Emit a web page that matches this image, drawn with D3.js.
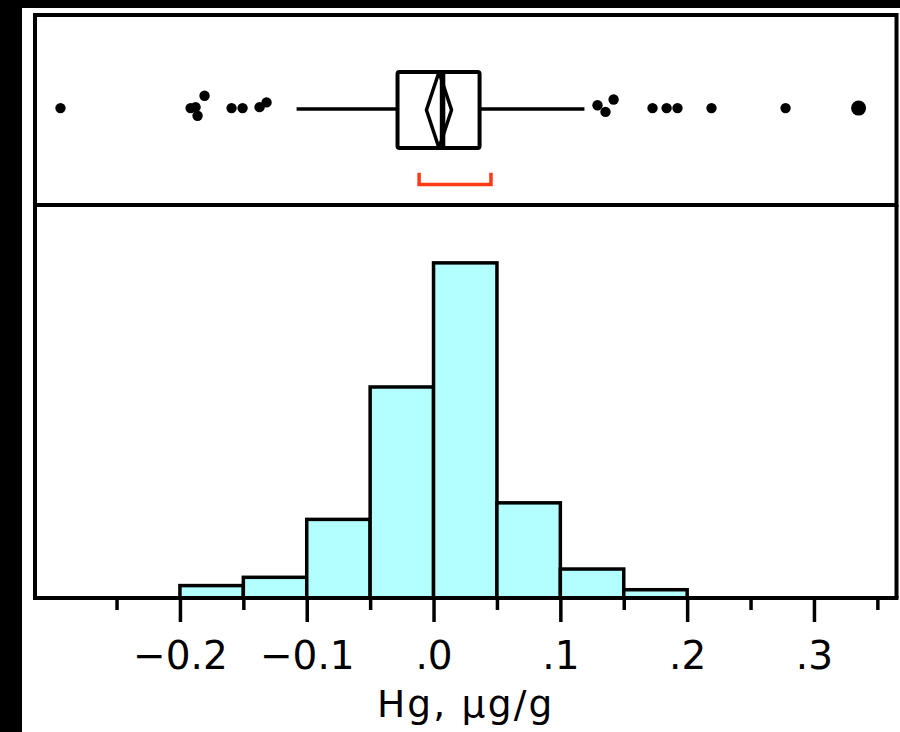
<!DOCTYPE html>
<html><head><meta charset="utf-8">
<script src="https://cdn.jsdelivr.net/npm/d3@7"></script>
<style>
html,body{margin:0;padding:0;background:#000;}
svg{display:block;}
</style></head>
<body>
<script>
// ---- data ----
const binStarts = [-0.2, -0.15, -0.1, -0.05, 0.0, 0.05, 0.1, 0.15];
const binWidth = 0.05;
const binCounts = [3, 5, 19, 51, 81, 23, 7, 2];

const majorTicks = [-0.2, -0.1, 0.0, 0.1, 0.2, 0.3];
const tickLabels = ["\u22120.2", "\u22120.1", ".0", ".1", ".2", ".3"];
const minorTicks = [-0.25, -0.15, -0.05, 0.05, 0.15, 0.25, 0.35];

// box plot summary
const q1 = -0.0284, median = 0.0071, q3 = 0.0363;
const whiskerLow = -0.108, whiskerHigh = 0.119;
const meanVal = 0.0043, meanCI = 0.0099;
const shortestHalf = [-0.0114, 0.0453];

// outliers: value, vertical jitter (unitless), size
const outlierValues = [-0.2942, -0.1916, -0.1877, -0.1861, -0.1806, -0.1593, -0.1506, -0.1372, -0.1317,
                       0.1293, 0.1356, 0.1420, 0.1727, 0.1838, 0.1924, 0.2192, 0.2776, 0.3352];
const outlierJitter = [0.02, 0.02, 0.03, -0.06, 0.15, 0.02, 0.02, 0.03, 0.08,
                       0.05, -0.02, 0.11, 0.02, 0.02, 0.02, 0.02, 0.02, 0.02];
const outlierWeight = [1,1,1,1,1,1,1,1,1, 1,1,1,1,1,1,1,1,2];

const xTitle = "Hg, \u03bcg/g";

// ---- layout ----
const W = 900, H = 732;
const L = 35, R = 896.5, T = 15, SEP = 205, B = 598;

const svg = d3.select("body").append("svg").attr("width", W).attr("height", H);
svg.append("rect").attr("x", 22).attr("y", 8).attr("width", W - 22).attr("height", H - 8).attr("fill", "#fff");

const x = d3.scaleLinear().domain([-0.3143, 0.3651]).range([L, R]);
const y = d3.scaleLinear().domain([0, 94.5]).range([B, SEP + 2]);
const yb = d3.scaleLinear().domain([-1, 1]).range([SEP, T]);

// histogram bars
svg.append("g").selectAll("rect").data(binStarts).join("rect")
  .attr("x", d => x(d))
  .attr("width", d => x(d + binWidth) - x(d))
  .attr("y", (d, i) => y(binCounts[i]))
  .attr("height", (d, i) => y(0) - y(binCounts[i]))
  .attr("fill", "#b3ffff")
  .attr("stroke", "#000")
  .attr("stroke-width", 3.5);

// frame
const frame = svg.append("g").attr("stroke", "#000").attr("stroke-width", 4).attr("fill", "none");
frame.append("rect").attr("x", L).attr("y", T).attr("width", R - L).attr("height", SEP - T);
frame.append("line").attr("x1", L).attr("x2", L).attr("y1", SEP).attr("y2", B);
frame.append("line").attr("x1", R).attr("x2", R).attr("y1", SEP).attr("y2", B);
frame.append("line").attr("x1", L - 2).attr("x2", R + 2).attr("y1", B).attr("y2", B);

// axes
const axMajor = svg.append("g").attr("transform", `translate(0,${B})`)
  .call(d3.axisBottom(x).tickValues(majorTicks).tickFormat((d, i) => tickLabels[i]).tickSize(24).tickPadding(19));
axMajor.select(".domain").remove();
axMajor.selectAll("line").attr("stroke", "#000").attr("stroke-width", 3.5);
axMajor.selectAll("text").attr("font-family", "DejaVu Sans").attr("font-size", 39).attr("fill", "#000");

const axMinor = svg.append("g").attr("transform", `translate(0,${B})`)
  .call(d3.axisBottom(x).tickValues(minorTicks).tickFormat("").tickSize(12));
axMinor.select(".domain").remove();
axMinor.selectAll("line").attr("stroke", "#000").attr("stroke-width", 3.5);

svg.append("text").attr("x", (L + R) / 2).attr("y", 717)
  .attr("text-anchor", "middle").attr("font-family", "DejaVu Sans").attr("font-size", 37.5)
  .attr("letter-spacing", 2.2).text(xTitle);

// box plot
const bp = svg.append("g").attr("stroke", "#000").attr("fill", "none").attr("stroke-linejoin", "round");
const yc = yb(0.01);
bp.append("line").attr("x1", x(whiskerLow)).attr("x2", x(q1)).attr("y1", yc).attr("y2", yc).attr("stroke-width", 3.5);
bp.append("line").attr("x1", x(q3)).attr("x2", x(whiskerHigh)).attr("y1", yc).attr("y2", yc).attr("stroke-width", 3.5);
bp.append("rect").attr("x", x(q1)).attr("y", yb(0.4)).attr("width", x(q3) - x(q1)).attr("height", yb(-0.4) - yb(0.4))
  .attr("stroke-width", 4).attr("rx", 2);
bp.append("path").attr("stroke-width", 3.5)
  .attr("d", `M${x(meanVal)},${yb(0.4)} L${x(meanVal - meanCI)},${yb(0)} L${x(meanVal)},${yb(-0.4)} L${x(meanVal + meanCI)},${yb(0)} Z`);
bp.append("line").attr("x1", x(median)).attr("x2", x(median)).attr("y1", yb(0.4)).attr("y2", yb(-0.4)).attr("stroke-width", 5.5);

// shortest half bracket
svg.append("path").attr("fill", "none").attr("stroke", "#ff3a14").attr("stroke-width", 3.5)
  .attr("d", `M${x(shortestHalf[0])},${yb(-0.66)} V${yb(-0.785)} H${x(shortestHalf[1])} V${yb(-0.66)}`);

// outliers
svg.append("g").selectAll("circle").data(outlierValues).join("circle")
  .attr("cx", d => x(d))
  .attr("cy", (d, i) => yb(outlierJitter[i]))
  .attr("r", (d, i) => outlierWeight[i] > 1 ? 7.5 : 5.2)
  .attr("fill", "#000");
</script>
</body></html>
